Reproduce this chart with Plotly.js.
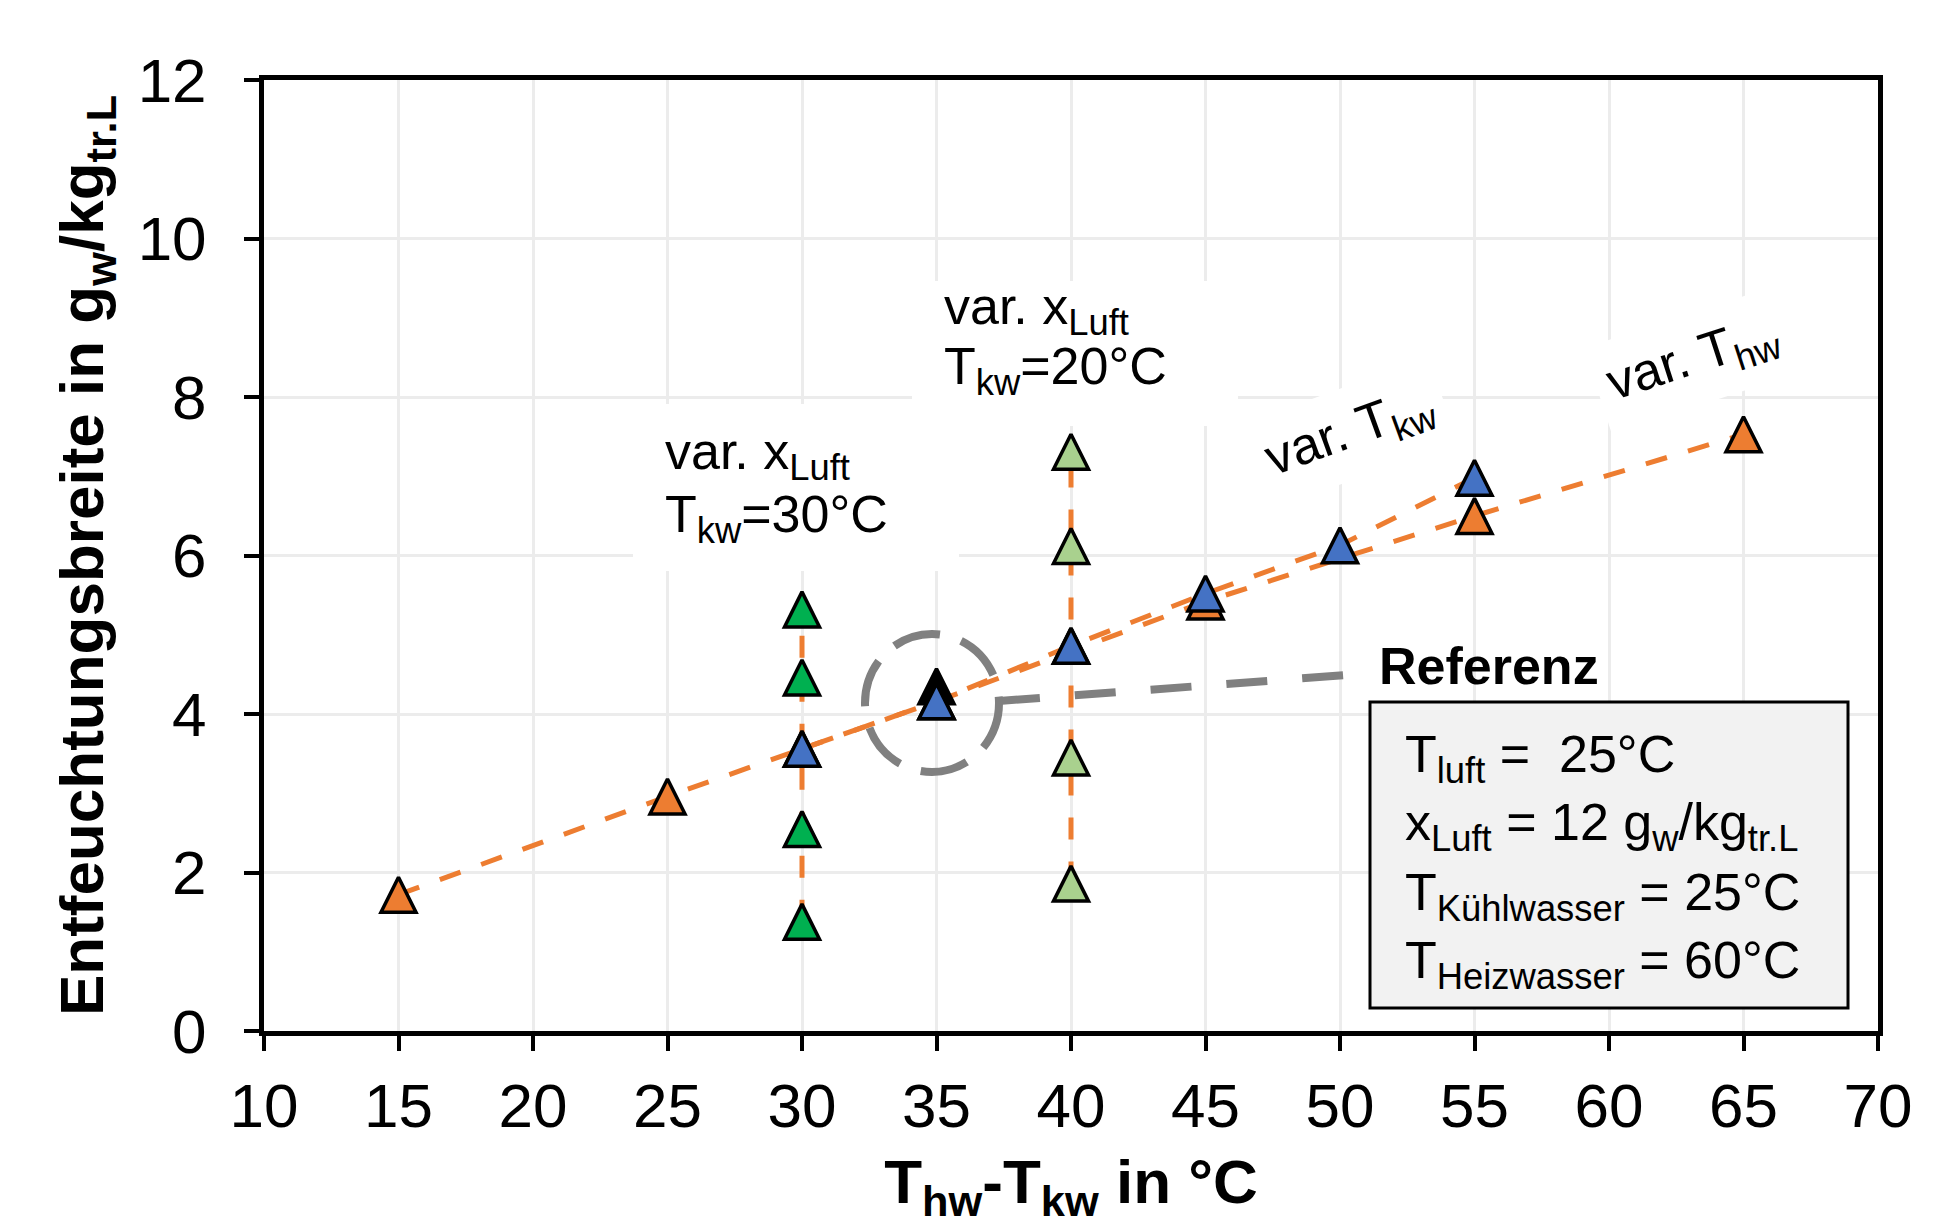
<!DOCTYPE html>
<html>
<head>
<meta charset="utf-8">
<script src="https://cdn.plot.ly/plotly-3.0.1.min.js"></script>
<style>html,body{margin:0;padding:0;background:#fff;}#chart{width:1957px;height:1225px;}</style>
</head>
<body>
<div id="chart"></div>
<script>
// ---- data ----
const thwX = [15, 25, 35, 45, 55, 65];          // var. T_hw (orange)
const thwY = [1.72, 2.96, 4.16, 5.42, 6.50, 7.53];
const tkwX = [30, 35, 40, 45, 50, 55];          // var. T_kw (blue)
const tkwY = [3.56, 4.16, 4.86, 5.52, 6.13, 6.98];
const xl30X = [30, 30, 30, 30, 30];             // var. x_Luft, T_kw=30°C (green)
const xl30Y = [1.38, 2.55, 3.56, 4.46, 5.32];
const xl20X = [40, 40, 40, 40, 40];             // var. x_Luft, T_kw=20°C (light green)
const xl20Y = [1.86, 3.45, 4.86, 6.12, 7.31];
const refX = [35];                              // Referenz (black)
const refY = [4.35];

const xTicks = [10, 15, 20, 25, 30, 35, 40, 45, 50, 55, 60, 65, 70];
const yTicks = [0, 2, 4, 6, 8, 10, 12];

const labelLuft30 = ['var. x<sub>Luft</sub>', 'T<sub>kw</sub>=30°C'];
const labelLuft20 = ['var. x<sub>Luft</sub>', 'T<sub>kw</sub>=20°C'];
const labelTkw = 'var. T<sub>kw</sub>';
const labelThw = 'var. T<sub>hw</sub>';
const labelRef = 'Referenz';
const boxLines = [
  'T<sub>luft</sub> =\u00a0 25°C',
  'x<sub>Luft</sub> = 12 g<sub>w</sub>/kg<sub>tr.L</sub>',
  'T<sub>Kühlwasser</sub> = 25°C',
  'T<sub>Heizwasser</sub> = 60°C'
];

// ---- geometry helpers (layout only) ----
const W = 1957, H = 1225;
const M = {l: 264, r: 79, t: 80, b: 194};
const PW = W - M.l - M.r, PH = H - M.t - M.b;
const X = px => 10 + (px - M.l) * 60 / PW;
const Y = py => (M.t + PH - py) * 12 / PH;

const FONT = 'Liberation Sans, Arial, sans-serif';
const ORANGE = '#ED7D31', BLUE = '#4472C4', GREEN = '#00B050', LGREEN = '#A9D18E';
const MS = 35;

const lineStyle = {color: ORANGE, width: 5, dash: '22px,22px'};
function lineTrace(x, y) {
  return {x, y, mode: 'lines', line: lineStyle, hoverinfo: 'skip', showlegend: false};
}
function markTrace(x, y, color) {
  return {x, y, mode: 'markers', showlegend: false, cliponaxis: false,
    marker: {symbol: 'arrow-down', angle: 180, standoff: MS / 2, size: MS, color: color,
             line: {color: '#000', width: 3.5}}};
}

const data = [
  lineTrace(thwX, thwY),
  lineTrace(tkwX, tkwY),
  lineTrace(xl30X, xl30Y),
  lineTrace(xl20X, xl20Y),
  markTrace(thwX, thwY, ORANGE),
  markTrace(xl30X, xl30Y, GREEN),
  markTrace(xl20X, xl20Y, LGREEN),
  markTrace(refX, refY, '#000000'),
  markTrace(tkwX, tkwY, BLUE)
];

const FS = 52;
function lineAnn(text, leftPx, basePx, opts) {
  opts = opts || {};
  const size = opts.size || FS;
  const hasSub = text.indexOf('<sub>') >= 0;
  return Object.assign({
    text: text, xref: 'x', yref: 'y', showarrow: false,
    x: X(leftPx), y: Y(basePx + (hasSub ? 0.358 : 0.212) * size),
    xanchor: 'left', yanchor: 'bottom', align: 'left',
    borderpad: 0, borderwidth: 0,
    font: {family: FONT, size: size, color: '#000', weight: opts.weight || 'normal'}
  }, opts.extra || {});
}

const annotations = [
  lineAnn(labelLuft30[0], 665, 469),
  lineAnn(labelLuft30[1], 665, 532),
  lineAnn(labelLuft20[0], 944, 324),
  lineAnn(labelLuft20[1], 944, 384),
  lineAnn(labelRef, 1379, 684, {weight: 'bold'}),
  lineAnn(boxLines[0], 1405, 772),
  lineAnn(boxLines[1], 1405, 840),
  lineAnn(boxLines[2], 1405, 910),
  lineAnn(boxLines[3], 1405, 978),
  {text: labelTkw, xref: 'x', yref: 'y', showarrow: false, x: X(1350), y: Y(433),
   xanchor: 'center', yanchor: 'middle', textangle: -20, bgcolor: '#fff', borderpad: 12, borderwidth: 0,
   font: {family: FONT, size: FS, color: '#000'}},
  {text: labelThw, xref: 'x', yref: 'y', showarrow: false, x: X(1693), y: Y(360),
   xanchor: 'center', yanchor: 'middle', textangle: -18, bgcolor: '#fff', borderpad: 12, borderwidth: 0,
   font: {family: FONT, size: FS, color: '#000'}}
];

const shapes = [
  {type: 'rect', xref: 'x', yref: 'y', layer: 'between', x0: X(633), x1: X(959), y0: Y(571), y1: Y(404),
   fillcolor: '#fff', line: {width: 0}},
  {type: 'rect', xref: 'x', yref: 'y', layer: 'between', x0: X(912), x1: X(1238), y0: Y(426), y1: Y(281),
   fillcolor: '#fff', line: {width: 0}},
  {type: 'circle', xref: 'x', yref: 'y', xsizemode: 'pixel', ysizemode: 'pixel',
   xanchor: X(932), yanchor: Y(703), x0: -67, x1: 67, y0: -69, y1: 69,
   line: {color: '#808080', width: 8, dash: '48px,22px'}, fillcolor: 'rgba(0,0,0,0)'},
  {type: 'line', xref: 'x', yref: 'y', x0: X(999), y0: Y(701), x1: X(1347), y1: Y(675),
   line: {color: '#808080', width: 8, dash: '41px,35px'}},
  {type: 'rect', xref: 'x', yref: 'y', x0: X(1370), x1: X(1848), y0: Y(1008), y1: Y(702),
   fillcolor: '#F2F2F2', line: {color: '#000', width: 3}}
];

const axisCommon = {
  showline: true, linewidth: 5, linecolor: '#000', mirror: true,
  ticks: 'outside', ticklen: 15, tickwidth: 4, tickcolor: '#000',
  showgrid: true, gridcolor: '#ECECEC', gridwidth: 3, zeroline: false,
  automargin: false,
  tickfont: {family: FONT, size: 62, color: '#000'}
};

const layout = {
  width: W, height: H, margin: M,
  paper_bgcolor: '#fff', plot_bgcolor: '#fff',
  showlegend: false,
  font: {family: FONT, color: '#000'},
  xaxis: Object.assign({}, axisCommon, {
    range: [10, 70], tickmode: 'array', tickvals: xTicks, ticktext: xTicks.map(String),
    ticklabelstandoff: 2,
    title: {text: 'T<sub>hw</sub>-T<sub>kw</sub> in °C', standoff: 42,
            font: {family: FONT, size: 62, color: '#000', weight: 'bold'}}
  }),
  yaxis: Object.assign({}, axisCommon, {
    range: [0, 12], tickmode: 'array', tickvals: yTicks, ticktext: yTicks.map(String),
    ticklabelstandoff: 25,
    title: {text: 'Entfeuchtungsbreite in g<sub>w</sub>/kg<sub>tr.L</sub>', standoff: 15,
            font: {family: FONT, size: 62, color: '#000', weight: 'bold'}}
  }),
  annotations: annotations,
  shapes: shapes
};

Plotly.newPlot('chart', data, layout, {staticPlot: true, displayModeBar: false});
</script>
</body>
</html>
